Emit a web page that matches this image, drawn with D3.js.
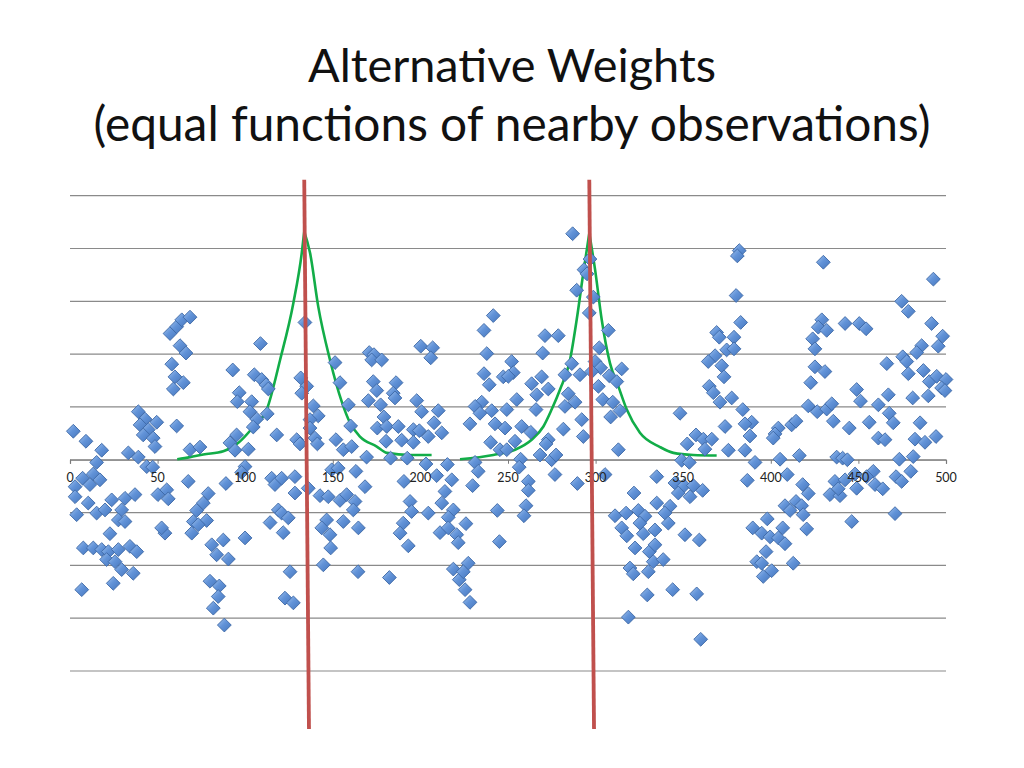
<!DOCTYPE html>
<html><head><meta charset="utf-8">
<script src="https://cdn.jsdelivr.net/npm/d3@7"></script>
<style>body{margin:0;background:#fff;} svg{display:block;}</style>
</head><body>
<svg id="chart" width="1024" height="768"></svg>
<script>
// ---------------- DATA ----------------
const titleLines = ["Alternative Weights", "(equal functions of nearby observations)"];
const xTickValues = [0, 50, 100, 150, 200, 250, 300, 350, 400, 450, 500];
const yGridValues = [-4, -3, -2, -1, 0, 1, 2, 3, 4, 5];

// scatter observations [x, y]
const observations = [
[1.9,0.54],[9.1,0.35],[18.1,0.18],[15.2,-0.05],[13.3,-0.27],[7.2,-0.35],[2.9,-0.51],[11.4,-0.47],[17.1,-0.38],[2.9,-0.70],
[10.4,-0.82],[15.2,-1.01],[3.8,-1.04],[20.0,-0.95],[23.8,-0.76],[31.4,-0.73],[37.1,-0.66],[29.5,-0.95],[27.6,-1.14],[31.4,-1.17],
[22.8,-1.40],[7.6,-1.67],[13.3,-1.67],[18.1,-1.70],[21.9,-1.74],[27.6,-1.70],[34.2,-1.64],[38.1,-1.74],[20.9,-1.89],[25.7,-1.93],
[29.5,-2.08],[36.1,-2.15],[24.7,-2.34],[6.7,-2.46],[33.3,0.13],[39.0,0.05],[39.0,0.91],[42.8,0.77],[40.0,0.66],[44.7,0.57],
[41.8,0.47],[47.5,0.41],[49.5,0.71],[48.5,0.25],[43.8,-0.13],[47.2,-0.14],[50.2,-0.66],
[57.1,2.39],[60.9,2.52],[63.8,2.65],[68.5,2.70],[62.8,2.16],[66.2,2.02],[58.1,1.81],[59.9,1.57],[64.7,1.46],[59.0,1.34],
[60.9,0.64],[68.5,0.19],[74.2,0.24],[92.9,1.70],[96.6,1.27],[95.5,1.10],[103.7,1.10],[105.2,1.61],[108.7,2.20],[102.7,0.91],
[106.6,0.77],[104.6,0.62],[95.1,0.47],[91.3,0.32],[94.2,0.18],[101.8,0.20],[99.9,-0.13],[98.0,-0.24],[67.5,-0.41],[89.0,-0.45],
[55.2,-0.57],[56.1,-0.74],[78.9,-0.64],[76.1,-0.82],[72.3,-0.96],[78.0,-1.15],[70.4,-1.17],[73.2,-1.23],[69.5,-1.39],[54.2,-1.39],
[52.3,-1.29],[99.9,-1.48],[87.5,-1.52],[80.9,-1.61],[83.7,-1.80],[90.4,-1.88],[79.9,-2.30],[85.2,-2.39],[84.6,-2.59],[81.8,-2.81],
[88.1,-3.13],
[134.1,2.60],[151.3,1.84],[154.1,1.46],[131.7,1.55],[135.1,1.39],[132.3,1.26],[109.4,1.52],[111.9,1.42],[113.2,1.34],[158.9,1.04],
[138.9,1.02],[141.7,0.83],[112.6,0.87],[137.0,0.76],[137.0,0.60],[160.2,0.64],[118.0,0.47],[129.4,0.38],[131.3,0.30],[139.8,0.41],
[141.2,0.30],[151.8,0.38],[156.0,0.19],[160.8,0.25],[115.1,-0.35],[117.0,-0.47],[120.8,-0.35],[128.4,-0.32],[128.4,-0.63],[136.0,-0.54],
[142.7,-0.68],[147.4,-0.70],[149.4,-0.19],[153.1,-0.16],[154.1,-0.77],[157.9,-0.66],[162.7,-0.79],[161.7,-0.95],[163.2,-0.22],[118.9,-0.95],
[120.8,-1.01],[124.6,-1.10],[114.2,-1.19],[121.7,-1.38],[146.5,-1.14],[143.7,-1.29],[148.4,-1.42],[156.0,-1.17],[164.6,-1.29],[148.8,-1.67],
[144.6,-1.99],[125.6,-2.12],[122.7,-2.62],[127.5,-2.71],[164.4,-2.12],
[170.8,2.03],[173.5,1.99],[172.2,1.89],[177.9,1.89],[200.2,2.15],[207.0,2.12],[205.9,1.93],[173.1,1.48],[175.1,1.31],[186.1,1.46],
[184.5,1.26],[185.5,1.17],[170.3,1.12],[177.3,1.04],[197.9,1.12],[200.7,0.91],[210.2,0.93],[179.2,0.81],[175.4,0.60],[180.8,0.63],
[187.4,0.63],[196.0,0.57],[199.4,0.55],[207.8,0.70],[212.2,0.51],[204.5,0.44],[196.0,0.33],[189.3,0.37],[180.4,0.35],[169.3,0.05],
[183.0,0.03],[192.5,0.03],[203.2,-0.08],[209.3,-0.30],[215.4,-0.09],[217.9,-0.38],[190.6,-0.41],[194.1,-0.79],[195.0,-0.98],[204.5,-1.01],
[168.4,-0.51],[214.0,-0.60],[212.2,-0.82],[218.8,-0.95],[215.9,-1.09],[190.2,-1.20],[188.4,-1.39],[193.1,-1.63],[211.2,-1.38],[215.9,-1.29],
[220.7,-1.42],[221.6,-1.57],[182.3,-2.23],[218.8,-2.07],[222.2,-2.27],
[241.6,2.73],[236.3,2.45],[237.9,2.01],[236.3,1.63],[239.3,1.42],[252.1,1.86],[253.0,1.65],[247.3,1.57],[250.2,1.58],[271.1,2.35],
[278.7,2.35],[269.8,2.02],[263.5,1.44],[269.2,1.57],[273.0,1.34],[266.4,1.23],[266.0,0.95],[255.0,1.14],[249.3,0.95],[240.7,0.93],
[235.0,1.09],[231.2,1.01],[234.0,0.88],[228.3,0.68],[242.6,0.68],[248.3,0.60],[257.8,0.63],[263.0,0.52],[254.0,0.35],[240.1,0.33],
[245.4,0.19],[249.3,0.19],[257.2,0.01],[256.4,-0.14],[268.3,0.09],[273.0,0.38],[271.7,0.30],[274.9,0.00],[276.8,-0.28],[277.4,0.09],
[231.2,-0.05],[233.0,-0.22],[229.8,-0.49],[261.6,-0.41],[261.6,-0.58],[260.3,-0.87],[259.1,-1.06],[243.9,-0.96],[245.1,-1.55],[226.0,-1.21],
[227.3,-1.96],[224.5,-2.12],[225.5,-2.46],[228.3,-2.70],
[286.9,4.28],[296.8,3.80],[293.4,3.60],[295.1,3.52],[289.2,3.21],[298.7,3.08],[296.4,2.78],[307.3,2.45],[302.1,2.12],[299.7,1.86],
[302.9,1.74],[314.9,1.72],[286.4,1.82],[291.1,1.61],[282.5,1.61],[297.8,1.67],[307.8,1.59],[312.1,1.48],[301.6,1.39],[284.4,1.25],
[288.3,1.09],[282.5,1.01],[304.1,1.14],[309.8,1.09],[313.9,0.93],[308.6,0.81],[292.1,0.76],[281.6,0.58],[293.0,0.44],[313.0,0.19],
[305.4,-0.28],[289.6,-0.45],[321.9,-0.63],[334.9,-0.32],[311.1,-1.06],[317.4,-1.01],[324.4,-0.96],[328.2,-1.07],[334.9,-0.82],[314.9,-1.29],
[317.8,-1.44],[325.3,-1.20],[327.2,-1.40],[333.9,-1.33],[322.5,-1.67],[330.7,-1.74],[333.9,-1.61],[319.6,-2.05],[321.5,-2.16],[330.1,-2.12],
[332.9,-1.93],[329.5,-2.56],[318.7,-2.98],
[382.0,3.96],[380.9,3.86],[380.2,3.11],[382.8,2.60],[369.1,2.41],[370.6,2.32],[379.0,2.32],[374.8,2.08],[379.0,2.10],[368.2,1.97],
[364.3,1.86],[372.0,1.78],[373.3,1.57],[364.9,1.39],[367.2,1.27],[371.0,1.09],[377.7,1.17],[384.0,0.95],[348.2,0.88],[389.1,0.71],
[385.3,0.68],[388.1,0.45],[373.9,0.63],[357.3,0.47],[352.3,0.30],[361.5,0.39],[366.3,0.39],[362.4,0.20],[375.8,0.18],[385.3,0.18],
[391.0,-0.05],[349.1,-0.01],[353.5,-0.05],[386.6,-0.39],[345.3,-0.44],[350.5,-0.49],[355.8,-0.49],[347.2,-0.63],[353.9,-0.70],[361.1,-0.58],
[342.5,-0.88],[339.6,-1.01],[341.5,-1.20],[351.0,-1.42],[359.2,-1.52],[338.6,-1.89],[344.0,-2.46],[357.7,-2.54],[360.0,-3.40],[389.7,-1.29],
[392.0,-1.93],
[430.0,3.74],[429.1,2.65],[427.1,2.51],[431.9,2.45],[442.4,2.58],[450.5,2.58],[423.9,2.29],[425.2,2.10],[425.2,1.76],[430.9,1.67],
[422.8,1.46],[421.4,1.02],[426.5,0.91],[431.9,0.96],[434.8,1.06],[435.7,0.73],[444.8,0.60],[449.0,1.33],[451.2,1.11],[404.3,0.60],
[402.4,0.49],[401.4,0.41],[411.9,0.66],[414.4,0.73],[405.3,0.01],[416.3,0.08],[409.4,-0.28],[418.2,-0.47],[421.4,-0.64],[437.6,0.05],
[441.0,0.03],[443.7,0.00],[436.6,-0.41],[442.4,-0.38],[448.1,-0.27],[449.0,-0.54],[433.8,-0.66],[439.5,-0.68],[438.5,-0.55],[408.1,-0.87],
[411.0,-0.96],[414.4,-0.79],[417.6,-0.87],[418.5,-1.04],[446.2,-1.17],[398.0,-1.12],[394.8,-1.39],[399.6,-1.46],[406.8,-1.29],[404.3,-1.48],
[408.1,-1.59],[420.5,-1.31],[397.3,-1.74],[412.8,-1.96],[394.8,-1.96],[400.5,-2.10],[395.7,-2.21],
[492.8,3.42],[474.7,3.00],[478.5,2.81],[454.4,2.48],[491.8,2.58],[498.1,2.34],[495.6,2.15],[486.1,2.16],[483.3,2.03],[475.3,1.95],
[477.6,1.86],[466.2,1.82],[478.5,1.63],[487.1,1.69],[490.5,1.48],[494.7,1.58],[500.0,1.52],[497.5,1.36],[499.4,1.31],[489.9,1.21],
[481.0,1.17],[467.1,1.23],[461.4,1.04],[467.6,0.88],[469.9,0.70],[456.2,0.71],[461.4,0.41],[465.2,0.38],[485.2,0.70],[482.3,0.39],
[488.0,0.33],[494.3,0.44],[473.4,0.01],[481.3,0.06],[479.9,-0.22],[471.5,-0.32],[474.7,-0.41],[458.5,-0.22],[454.7,-0.32],[459.5,-0.47],
[463.9,-0.55],[470.9,-1.02]
];

// kernel weight curves [x, y] (left flank up to the peak, then right flank)
const weightCurveA = [
[61.2,0.01],[68.5,0.05],[76.1,0.10],[87.5,0.16],[96.1,0.32],[104.6,0.62],[112.3,0.95],[119.9,1.89],[127.5,2.97],[132.3,3.92],[133.7,4.32],
[137.0,3.92],[141.7,2.90],[148.4,1.89],[155.1,1.10],[159.8,0.70],[165.5,0.44],[175.1,0.25],[180.8,0.13],[194.1,0.09],[206.4,0.09]
];
const weightCurveB = [
[222.6,0.01],[241.6,0.09],[254.0,0.19],[263.5,0.38],[270.2,0.63],[274.9,0.95],[279.7,1.33],[285.4,1.89],[289.2,2.65],[293.0,3.54],[296.4,4.29],
[299.7,3.60],[303.5,2.65],[308.2,1.83],[313.0,1.39],[317.8,0.95],[325.3,0.51],[336.8,0.24],[344.4,0.13],[355.8,0.09],[369.1,0.08]
];
const curvePeakX = [133.7, 296.4];

// red vertical markers: x at top / bottom
const markerTopX = [133.7, 296.4];
const markerBottomX = [136.4, 299.1];
const markerYSpan = [5.3, -5.1];

// ---------------- LAYOUT ----------------
const svg = d3.select("#chart");
const x = d3.scaleLinear().domain([0, 500]).range([70, 946]);
const y = d3.scaleLinear().domain([-4, 5]).range([671, 195.7]);

// defs: marker gradient
const defs = svg.append("defs");
const grad = defs.append("linearGradient").attr("id", "dg")
  .attr("x1", "0").attr("y1", "0").attr("x2", "1").attr("y2", "1");
grad.append("stop").attr("offset", "0").attr("stop-color", "#a3c4ee");
grad.append("stop").attr("offset", "0.45").attr("stop-color", "#6293d8");
grad.append("stop").attr("offset", "1").attr("stop-color", "#4576bd");

// title
const titleFont = "Lato, 'Open Sans', sans-serif";
const titleTargets = [{w: 408, base: 82}, {w: 837, base: 141}];
titleLines.forEach((t, i) => {
  const el = svg.append("text").attr("x", 512).attr("y", titleTargets[i].base)
    .attr("text-anchor", "middle").attr("font-family", titleFont)
    .attr("font-size", 44).attr("fill", "#111").text(t);
  const w = el.node().getComputedTextLength();
  el.attr("font-size", 44 * titleTargets[i].w / w);
});

// gridlines
svg.append("g").selectAll("line").data(yGridValues).join("line")
  .attr("x1", x(0)).attr("x2", x(500))
  .attr("y1", d => y(d)).attr("y2", d => y(d))
  .attr("stroke", "#8a8a8a").attr("stroke-width", 1.2);

// x axis line + ticks at y=0
const xAxis = d3.axisBottom(x).tickValues(xTickValues).tickSize(4).tickFormat(d3.format("d"));
const ax = svg.append("g").attr("transform", `translate(0,${y(0)})`).call(xAxis);
ax.select(".domain").attr("stroke", "#7a7a7a").attr("stroke-width", 1.2);
ax.selectAll(".tick line").attr("stroke", "#7a7a7a");
ax.selectAll(".tick text").remove();

// green weight curves (two flanks each, joined at a sharp peak)
const line = d3.line().x(d => x(d[0])).y(d => y(d[1])).curve(d3.curveMonotoneX);
[weightCurveA, weightCurveB].forEach((c, i) => {
  const left = c.filter(d => d[0] <= curvePeakX[i]);
  const right = c.filter(d => d[0] >= curvePeakX[i]);
  [left, right].forEach(seg => {
    svg.append("path").datum(seg).attr("d", line)
      .attr("fill", "none").attr("stroke", "#12ad48").attr("stroke-width", 2.6);
  });
});

// scatter points (rotated squares)
const r = 6.9;
svg.append("g").selectAll("path").data(observations).join("path")
  .attr("transform", d => `translate(${x(d[0])},${y(d[1])})`)
  .attr("d", `M0,${-r}L${r},0L0,${r}L${-r},0Z`)
  .attr("fill", "url(#dg)").attr("stroke", "#3c68a6").attr("stroke-width", 0.9);

// tick labels drawn above the markers
svg.append("g").selectAll("text").data(xTickValues).join("text")
  .attr("x", d => x(d)).attr("y", y(0) + 22)
  .attr("text-anchor", "middle").attr("font-family", "Lato, 'Open Sans', sans-serif")
  .attr("font-size", 12.5).attr("fill", "#222").text(d => d3.format("d")(d));

// red vertical markers
svg.append("g").selectAll("line").data(markerTopX).join("line")
  .attr("x1", d => x(d)).attr("x2", (d, i) => x(markerBottomX[i]))
  .attr("y1", y(markerYSpan[0])).attr("y2", y(markerYSpan[1]))
  .attr("stroke", "#c0504d").attr("stroke-width", 3.8);
</script>
</body></html>
